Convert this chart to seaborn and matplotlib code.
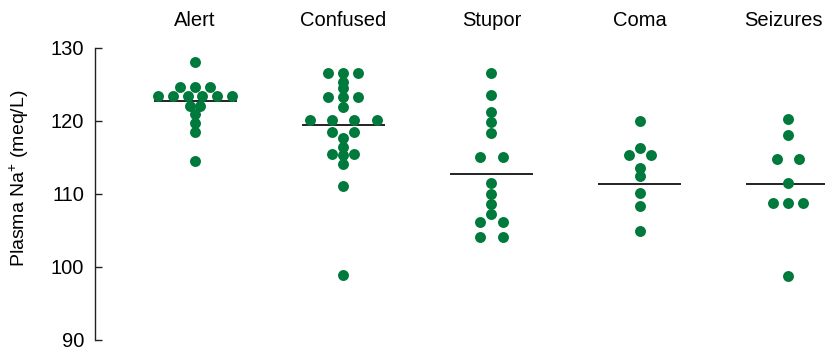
import seaborn as sns
import matplotlib.pyplot as plt
import matplotlib.transforms as mtransforms
import numpy as np
import pandas as pd

# plasma sodium by mental status
groups = ['Alert', 'Confused', 'Stupor', 'Coma', 'Seizures']
alert = [128.1, 124.7, 124.7, 124.7, 123.4, 123.4, 123.4, 123.4, 123.4, 123.4,
         122.1, 122.1, 120.9, 119.7, 118.5, 114.5]
confused = [126.6, 126.6, 126.6, 125.3, 124.5, 123.3, 123.3, 123.3, 121.9,
            120.1, 120.1, 120.1, 120.1, 118.5, 118.5, 117.7, 116.5,
            115.5, 115.5, 115.3, 114.1, 111.1, 98.9]
stupor = [126.6, 123.5, 121.2, 119.9, 118.4, 115.0, 115.0, 111.5, 110.0,
          108.6, 107.3, 106.1, 106.1, 104.1, 104.1]
coma = [120.0, 116.3, 115.4, 115.4, 113.6, 112.4, 110.1, 108.4, 104.9]
seizures = [120.3, 118.1, 114.8, 114.8, 111.5, 108.7, 108.7, 108.7, 98.7]
group_lines = [122.7, 119.4, 112.8, 111.4, 111.4]

rows = []
for i, vals in enumerate([alert, confused, stupor, coma, seizures]):
    s = pd.Series(vals)
    for v, n in s.value_counts(sort=False).items():
        gap = 0.15 if n in (2, 4) else 0.1
        if n == 2 and i == 0:
            gap = 0.065
        for k in range(n):
            rows.append({'group': groups[i], 'pos': i + (k - (n - 1) / 2) * gap, 'na': v})
df = pd.DataFrame(rows)

sns.set_style('white')
plt.rcParams['font.family'] = ['Liberation Sans', 'DejaVu Sans']
plt.rcParams['mathtext.default'] = 'regular'
plt.rcParams['text.color'] = 'black'
plt.rcParams['axes.labelcolor'] = 'black'
plt.rcParams['xtick.color'] = 'black'
plt.rcParams['ytick.color'] = 'black'

fig = plt.figure(figsize=(8.25, 3.5), dpi=100)
ax = fig.add_axes([95 / 825, 10 / 350, 730 / 825, 292 / 350])

sns.scatterplot(data=df, x='pos', y='na', color='#007A3C', s=62, linewidth=0, ax=ax, zorder=3)
ax.hlines(group_lines, np.arange(len(groups)) - 0.28, np.arange(len(groups)) + 0.28,
          color='#222222', lw=1.4, zorder=2)

ax.set_xlim(-0.675, 4.25)
ax.set_ylim(90, 130)
ax.set_yticks([90, 100, 110, 120, 130])
ax.set_xticks(range(len(groups)))
ax.set_xticklabels(groups)
ax.xaxis.tick_top()
ax.tick_params(axis='x', length=0, labelsize=14.5, pad=13)
ax.tick_params(axis='y', direction='in', length=5, width=1, color='#222222',
               labelsize=14.5, pad=8, left=True)
# last label sits a bit left of its column so it fits the frame
lab = ax.get_xticklabels()[-1]
lab.set_transform(lab.get_transform() + mtransforms.ScaledTranslation(-5 / 100, 0, fig.dpi_scale_trans))
ax.set_xlabel('')
ax.set_ylabel('Plasma Na$^{+}$ (meq/L)', fontsize=14)
ax.yaxis.set_label_coords(-0.088, 0.553)
for side in ['top', 'right', 'bottom']:
    ax.spines[side].set_visible(False)
ax.spines['left'].set_color('#222222')
ax.spines['left'].set_linewidth(1)

plt.savefig('out.png', dpi=100)
